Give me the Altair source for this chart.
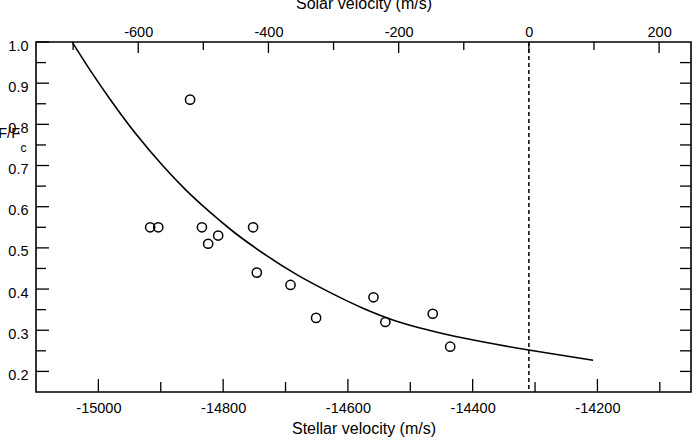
import altair as alt
import pandas as pd

# Measured line depth F/Fc against stellar velocity (m/s)
star_v = [-14853, -14917, -14904, -14834, -14824, -14808, -14752,
          -14746, -14692, -14651, -14559, -14540, -14464, -14436]
flux = [0.86, 0.55, 0.55, 0.55, 0.51, 0.53, 0.55,
        0.44, 0.41, 0.33, 0.38, 0.32, 0.34, 0.26]

# Fitted profile
curve_v = [-15042, -15009, -14977, -14940, -14897, -14860, -14822, -14785,
           -14736, -14682, -14629, -14575, -14522, -14470, -14431, -14378,
           -14310, -14260, -14207]
curve_f = [1.000, 0.922, 0.852, 0.777, 0.700, 0.641, 0.588, 0.541,
           0.487, 0.435, 0.392, 0.353, 0.322, 0.300, 0.286, 0.270,
           0.252, 0.240, 0.227]

# Rest frame marker (solar velocity)
rest_v = [0]

# Tick positions
stellar_major = [-15000, -14800, -14600, -14400, -14200]
stellar_minor = [-14900, -14700, -14500, -14300, -14100]
solar_major = [-600, -400, -200, 0, 200]
solar_minor = [-700, -500, -300, -100, 100]
f_major = [0.2, 0.3, 0.4, 0.5, 0.6, 0.7, 0.8, 0.9, 1.0]
f_minor = [0.25, 0.35, 0.45, 0.55, 0.65, 0.75, 0.85, 0.95]
f_right = [0.2, 0.25, 0.3, 0.35, 0.4, 0.45, 0.5, 0.55, 0.6, 0.65,
           0.7, 0.75, 0.8, 0.85, 0.9, 0.95]

W, H = 655, 350
STELLAR_DOM = [-15100, -14050]
SOLAR_DOM = [-757, 249]
F_DOM = [0.15, 1.0]
FONT = "Liberation Sans"
LABEL_SIZE = 14.5
TITLE_SIZE = 16

sx = alt.Scale(domain=STELLAR_DOM, nice=False, zero=False)
ox = alt.Scale(domain=SOLAR_DOM, nice=False, zero=False)
fy = alt.Scale(domain=F_DOM, nice=False, zero=False)

bottom_axis = alt.Axis(
    orient="bottom", values=stellar_major, ticks=False, tickSize=0,
    domain=False, grid=False, labelExpr="'' + datum.value",
    labelFont=FONT, labelFontSize=LABEL_SIZE, labelColor="black",
    labelPadding=9, labelFlush=False, title="Stellar velocity (m/s)",
    titleFont=FONT, titleFontSize=TITLE_SIZE, titleFontWeight="normal",
    titleColor="black", titlePadding=6,
)
left_axis = alt.Axis(
    orient="left", values=f_major, ticks=False, tickSize=0, domain=False,
    grid=False, labelExpr="format(datum.value, '.1f')", labelFont=FONT,
    labelFontSize=LABEL_SIZE, labelColor="black", labelPadding=8,
    labelOffset=4, labelFlush=False, title="",
)
top_axis = alt.Axis(
    orient="top", values=solar_major, ticks=False, tickSize=0, domain=False,
    grid=False, labelExpr="'' + datum.value", labelFont=FONT,
    labelFontSize=LABEL_SIZE, labelColor="black", labelPadding=3,
    labelFlush=False, title="Solar velocity (m/s)", titleFont=FONT,
    titleFontSize=TITLE_SIZE, titleFontWeight="normal", titleColor="black",
    titlePadding=13,
)

pts_df = pd.DataFrame({"v": star_v, "f": flux})
curve_df = pd.DataFrame({"v": curve_v, "f": curve_f})

points = alt.Chart(pts_df).mark_point(
    shape="circle", filled=False, size=85, strokeWidth=1.5,
    color="black", opacity=1,
).encode(
    x=alt.X("v:Q", scale=sx, axis=bottom_axis),
    y=alt.Y("f:Q", scale=fy, axis=left_axis),
)

curve = alt.Chart(curve_df).mark_line(
    color="black", strokeWidth=1.6, interpolate="monotone",
).encode(
    x=alt.X("v:Q", scale=sx, axis=bottom_axis),
    y=alt.Y("f:Q", scale=fy, axis=left_axis),
)


def xticks(values, scale, axis, length, top):
    df = pd.DataFrame({"v": values})
    if top:
        y0, y1 = alt.value(0), alt.value(length)
    else:
        y0, y1 = alt.value(H), alt.value(H - length)
    return alt.Chart(df).mark_rule(color="black", strokeWidth=1.3).encode(
        x=alt.X("v:Q", scale=scale, axis=axis), y=y0, y2=y1,
    )


def yticks(values, x0, x1):
    df = pd.DataFrame({"f": values})
    return alt.Chart(df).mark_rule(color="black", strokeWidth=1.3).encode(
        y=alt.Y("f:Q", scale=fy, axis=left_axis),
        x=alt.value(x0), x2=alt.value(x1),
    )


label_main = alt.Chart(pd.DataFrame({"t": ["F/F"]})).mark_text(
    font=FONT, fontSize=14.5, color="black", align="right",
    baseline="alphabetic",
).encode(text="t:N", x=alt.value(-16), y=alt.value(96))

label_sub = alt.Chart(pd.DataFrame({"t": ["c"]})).mark_text(
    font=FONT, fontSize=12, color="black", align="left", baseline="alphabetic",
).encode(text="t:N", x=alt.value(-15.5), y=alt.value(110))

stellar_layer = alt.layer(
    xticks(stellar_major, sx, bottom_axis, 13, False),
    xticks(stellar_minor, sx, bottom_axis, 10, False),
    yticks(f_major, 0, 13),
    yticks(f_minor, 0, 10),
    yticks(f_right, W - 11, W),
    curve,
    points,
    label_main,
    label_sub,
)

rest_line = alt.Chart(pd.DataFrame({"v": rest_v})).mark_rule(
    color="black", strokeWidth=1.5, strokeDash=[4, 3],
).encode(
    x=alt.X("v:Q", scale=ox, axis=top_axis),
    y=alt.value(0), y2=alt.value(H),
)

solar_layer = alt.layer(
    rest_line,
    xticks(solar_major, ox, top_axis, 11, True),
    xticks(solar_minor, ox, top_axis, 8, True),
)

chart = alt.layer(stellar_layer, solar_layer).resolve_scale(
    x="independent"
).properties(
    width=W, height=H, autosize="none",
    padding={"left": 36, "top": 42, "right": 9, "bottom": 50},
    background="white",
).configure_view(stroke="black", strokeWidth=1.6)

chart.save("out.html", embed_options={"renderer": "svg", "actions": False})
